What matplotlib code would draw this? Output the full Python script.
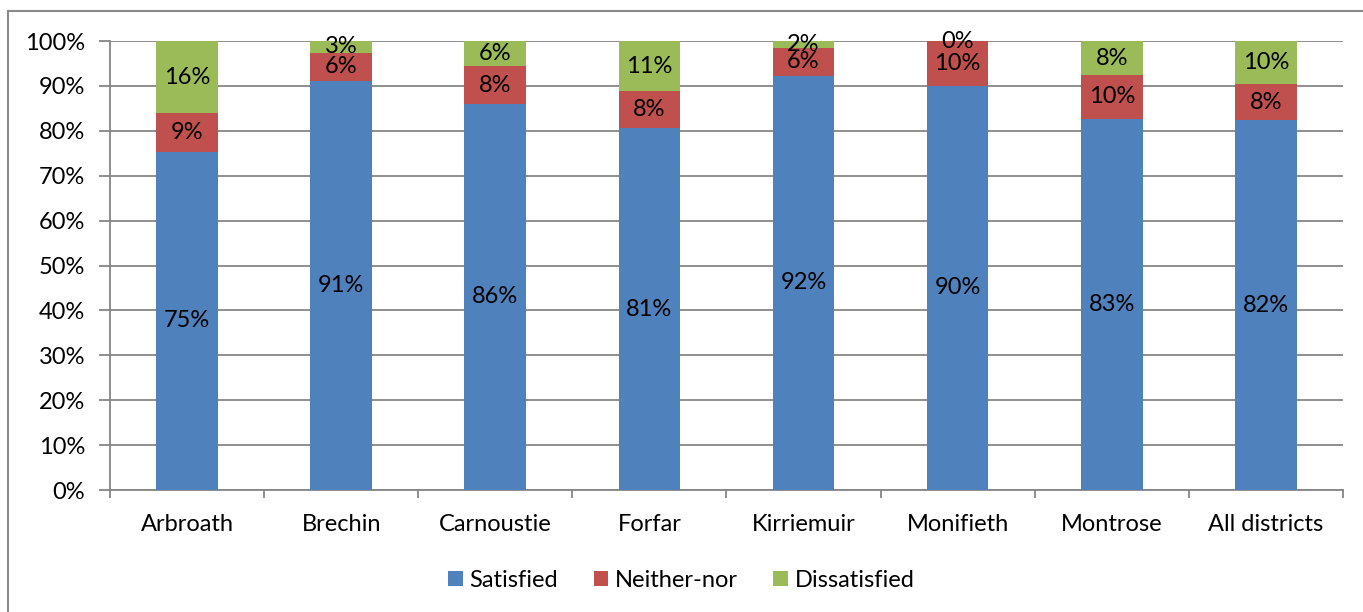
import matplotlib.pyplot as plt
from matplotlib.lines import Line2D
from matplotlib.ticker import PercentFormatter

plt.rcParams['font.family'] = ['Lato', 'DejaVu Sans']

districts = ['Arbroath', 'Brechin', 'Carnoustie', 'Forfar', 'Kirriemuir',
             'Monifieth', 'Montrose', 'All districts']
satisfied = [75.3, 91.2, 86.0, 80.6, 92.3, 90.0, 82.7, 82.3]
neither = [8.6, 6.2, 8.4, 8.2, 6.1, 10.0, 9.7, 8.1]
dissatisfied = [16.1, 2.6, 5.6, 11.2, 1.6, 0.0, 7.6, 9.6]

series = [('Satisfied', satisfied, '#4F81BD'),
          ('Neither-nor', neither, '#C0504D'),
          ('Dissatisfied', dissatisfied, '#9BBB59')]

FS = 17

fig = plt.figure(figsize=(13.63, 6.12), dpi=100)
ax = fig.add_axes([0.0807, 0.1993, 0.9046, 0.7337])

x = list(range(len(districts)))
bottom = [0.0] * len(districts)
for name, vals, col in series:
    bars = ax.bar(x, vals, 0.4, bottom=bottom, color=col, label=name, zorder=3)
    for b, v, y0 in zip(bars, vals, bottom):
        ax.text(b.get_x() + b.get_width() / 2, y0 + v / 2, f'{v:.0f}%',
                ha='center', va='center', fontsize=FS, zorder=4)
    bottom = [a + b for a, b in zip(bottom, vals)]

ax.set_xlim(-0.5, len(districts) - 0.5)
ax.set_ylim(0, 100)
ax.set_yticks(range(0, 101, 10))
ax.yaxis.set_major_formatter(PercentFormatter(decimals=0))
ax.grid(axis='y', color='#868686', linewidth=1.3, zorder=0)

# category labels centred, ticks on the boundaries
ax.set_xticks(x)
ax.set_xticklabels(districts)
ax.tick_params(axis='x', length=0, pad=17, labelsize=FS)
ax.set_xticks([i - 0.5 for i in range(len(districts) + 1)], minor=True)
ax.tick_params(axis='x', which='minor', length=6, width=1.3, color='#868686')
ax.tick_params(axis='y', length=8, width=1.3, color='#868686', labelsize=FS, pad=10)

for s in ['top', 'right']:
    ax.spines[s].set_visible(False)
for s in ['left', 'bottom']:
    ax.spines[s].set_color('#868686')
    ax.spines[s].set_linewidth(1.3)

fig.legend(loc='center', bbox_to_anchor=(0.5, 0.052), ncol=3, frameon=False,
           fontsize=FS, handlelength=0.6, handleheight=0.6, handletextpad=0.3,
           columnspacing=1.5)

# outer chart border
fx, fy = 8 / 1363, 1 - 11 / 612
fig.add_artist(Line2D([fx, fx], [-0.1, fy], transform=fig.transFigure,
                      color='#898989', linewidth=1.5))
fig.add_artist(Line2D([fx, 1.1], [fy, fy], transform=fig.transFigure,
                      color='#898989', linewidth=1.5))

fig.savefig('out.png', dpi=100)
